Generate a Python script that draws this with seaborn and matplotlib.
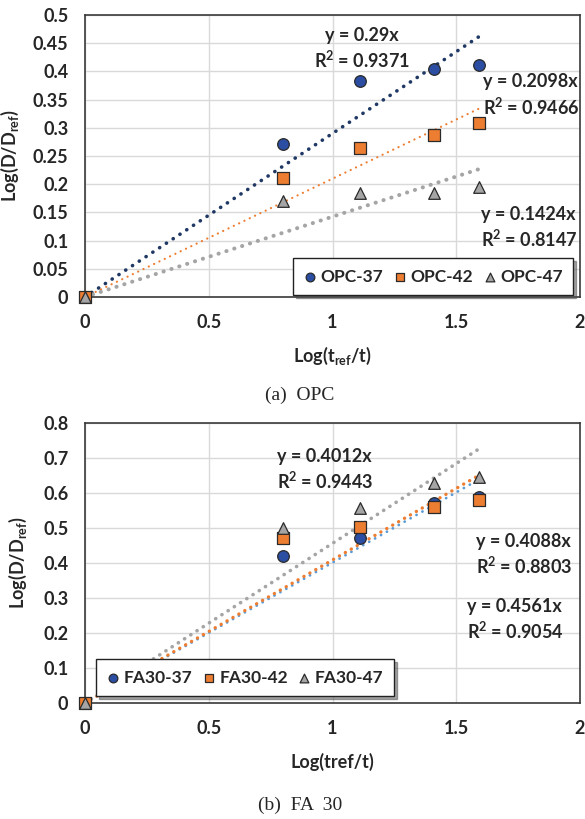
import matplotlib
matplotlib.use('Agg')
import matplotlib.pyplot as plt
import numpy as np
import pandas as pd
import seaborn as sns
from matplotlib.ticker import FuncFormatter

# x values shared by every series
log_t = [0, 0.80, 1.11, 1.41, 1.59]

# (a) OPC
opc_names = ['OPC-37', 'OPC-42', 'OPC-47']
opc_37 = [0, 0.272, 0.383, 0.404, 0.411]
opc_42 = [0, 0.211, 0.264, 0.287, 0.309]
opc_47 = [0, 0.170, 0.184, 0.184, 0.195]
opc_slopes = [0.29, 0.2098, 0.1424]
opc_r2 = [0.9371, 0.9466, 0.8147]

# (b) FA 30
fa_names = ['FA30-37', 'FA30-42', 'FA30-47']
fa_37 = [0, 0.420, 0.472, 0.572, 0.589]
fa_42 = [0, 0.472, 0.503, 0.560, 0.579]
fa_47 = [0, 0.500, 0.557, 0.628, 0.645]
fa_slopes = [0.4012, 0.4088, 0.4561]
fa_r2 = [0.9443, 0.8803, 0.9054]

sns.set_style('white')
plt.rcParams['font.family'] = ['Lato', 'DejaVu Sans']
plt.rcParams['font.weight'] = 'bold'
plt.rcParams['mathtext.fontset'] = 'custom'
plt.rcParams['mathtext.rm'] = 'Lato:bold'
plt.rcParams['mathtext.bf'] = 'Lato:bold'
plt.rcParams['mathtext.it'] = 'Lato:bold'

marker_faces = ['#2B4EA2', '#ED7D31', '#A5A5A5']
markers = ['o', 's', '^']
W, H = 585, 819
FS = 13


def draw_panel(ax, names, series, slopes, r2, line_colors, line_styles,
               ymax, ystep, r2_gap, eq_pos, leg_loc, leg_anchor):
    xs = [0, max(log_t)]
    # trend lines forced through the origin
    for slope, col, (lw, gap) in zip(slopes, line_colors, line_styles):
        sns.lineplot(x=xs, y=[slope * v for v in xs], ax=ax, color=col, lw=lw,
                     linestyle=(0, (0.05, gap)), dash_capstyle='round', zorder=2)
    for name, ys, face, mk in zip(names, series, marker_faces, markers):
        sns.scatterplot(x=log_t, y=ys, ax=ax, marker=mk, color=face, s=70,
                        edgecolor='#2a2a2a', linewidth=0.9, label=name, zorder=3,
                        clip_on=False)
    for (px, py, ha), slope, r in zip(eq_pos, slopes, r2):
        ax.text(px, py, f'y = {slope:g}x', ha=ha, va='center', fontsize=FS, fontweight='bold')
        ax.text(px, py - r2_gap, f'R$^{{2}}$ = {r:.4f}', ha=ha, va='center',
                fontsize=FS, fontweight='bold')

    ax.set_xlim(0, 2)
    ax.set_ylim(0, ymax)
    ax.set_xticks(np.arange(0, 2.01, 0.5))
    ax.set_yticks(np.arange(0, ymax + 1e-9, ystep))
    fmt = FuncFormatter(lambda v, p: f'{round(v, 3):g}')
    ax.xaxis.set_major_formatter(fmt)
    ax.yaxis.set_major_formatter(fmt)
    ax.tick_params(length=0, labelsize=FS, pad=12)
    for lab in ax.get_xticklabels() + ax.get_yticklabels():
        lab.set_fontweight('bold')
    ax.grid(True, color='#D9D9D9', lw=1)
    ax.set_axisbelow(True)
    for sp in ax.spines.values():
        sp.set_color('#3a3a3a')
        sp.set_linewidth(1.2)

    leg = ax.legend(loc=leg_loc, bbox_to_anchor=leg_anchor, ncol=3, frameon=True,
                    fancybox=False, shadow=True, borderaxespad=0, fontsize=12.5,
                    handletextpad=0.2, columnspacing=0.55, markerscale=0.75,
                    borderpad=0.6, handlelength=0.8)
    leg.get_frame().set_edgecolor('#222222')
    leg.get_frame().set_linewidth(1.0)
    for t in leg.get_texts():
        t.set_fontweight('bold')


fig = plt.figure(figsize=(W / 100, H / 100), dpi=100)
ax1 = fig.add_axes([85 / W, 1 - 297 / H, 495 / W, 282 / H])
ax2 = fig.add_axes([85 / W, 1 - 703 / H, 495 / W, 280 / H])

draw_panel(ax1, opc_names, [opc_37, opc_42, opc_47], opc_slopes, opc_r2,
           ['#203864', '#ED7D31', '#A5A5A5'], [(2.6, 2.2), (1.6, 2.6), (2.9, 2.0)],
           0.5, 0.05, 0.045,
           [(1.119, 0.4645, 'center'), (1.609, 0.382, 'left'), (1.601, 0.147, 'left')],
           'lower right', (0.986, 0.007))
draw_panel(ax2, fa_names, [fa_37, fa_42, fa_47], fa_slopes, fa_r2,
           ['#5B9BD5', '#ED7D31', '#A5A5A5'], [(2.0, 2.4), (2.4, 2.0), (2.6, 2.0)],
           0.8, 0.1, 0.071,
           [(0.774, 0.704, 'left'), (1.581, 0.461, 'left'), (1.544, 0.277, 'left')],
           'lower left', (0.022, 0.025))

ax1.set_xlabel('Log(t$_{ref}$/t)', fontsize=FS, fontweight='bold', labelpad=10)
ax1.set_ylabel('Log(D/D$_{ref}$)', fontsize=FS, fontweight='bold', labelpad=8)
ax2.set_xlabel('Log(tref/t)', fontsize=FS, fontweight='bold', labelpad=12)
ax2.set_ylabel('Log(D/D$_{ref}$)', fontsize=FS, fontweight='bold', labelpad=10)

fig.text(300 / W, 1 - 395 / H, '(a)  OPC', ha='center', va='center',
         fontsize=14, family='Liberation Serif', fontweight='normal')
fig.text(300 / W, 1 - 805 / H, '(b)  FA  30', ha='center', va='center',
         fontsize=14, family='Liberation Serif', fontweight='normal')

fig.savefig('out.png', dpi=100)
